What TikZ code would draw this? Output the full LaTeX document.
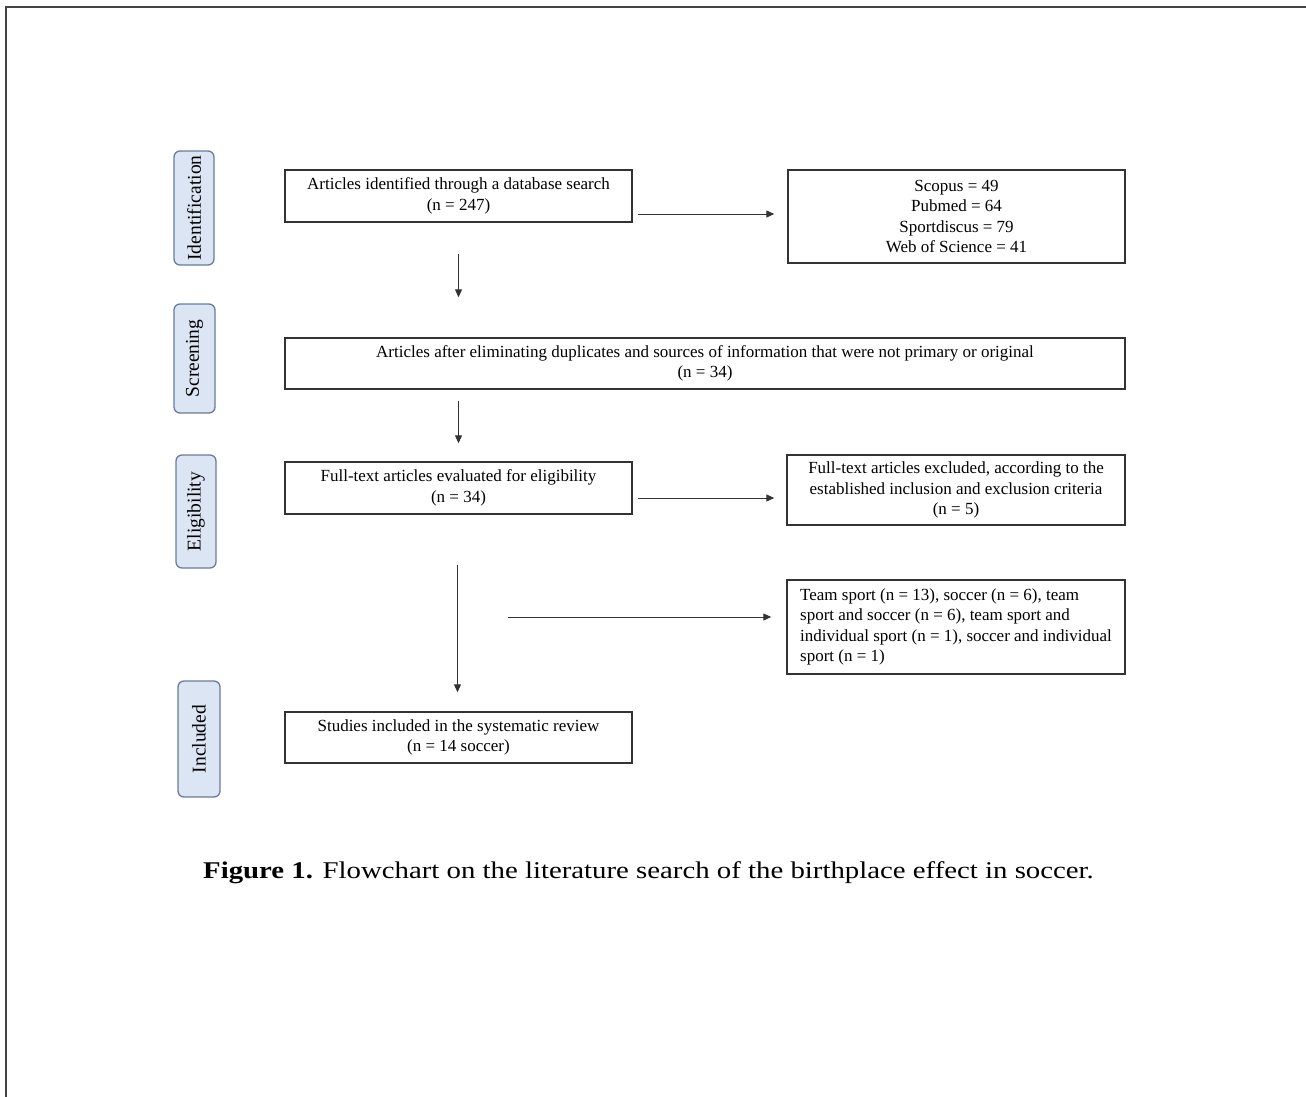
\documentclass[tikz,border=0pt]{standalone}
\usepackage{fontspec}
\setmainfont{Liberation Serif}
\newfontfamily\capfont[FakeStretch=1.2]{Liberation Serif}
\usetikzlibrary{arrows.meta,calc}
\definecolor{framecol}{HTML}{444444}
\definecolor{boxcol}{HTML}{333333}
\definecolor{lblfill}{HTML}{DCE5F4}
\definecolor{lbldraw}{HTML}{6A7C9C}
\tikzset{
  box/.style={draw=boxcol, line width=1.4pt, fill=white, align=center, inner sep=2pt,
    font=\fontsize{17}{20.5}\selectfont},
  lbl/.style={draw=lbldraw, fill=lblfill, line width=1.3pt, rounded corners=6pt, rotate=90,
    font=\fontsize{19.5}{22}\selectfont, inner sep=1pt},
  arr/.style={draw=boxcol, line width=1pt, -{Triangle[length=8pt,width=7pt]}},
}
\begin{document}
\begin{tikzpicture}[x=1pt,y=-1pt]
\useasboundingbox (0,0) rectangle (1306,1097);
\draw[framecol, line width=2pt] (1306,7) -- (6,7) -- (6,1097);

% stage labels
\node[lbl, minimum width=114pt, minimum height=40pt] (l1) at (194,208) {Identification};
\node[lbl, minimum width=109pt, minimum height=41pt] (l2) at (194.5,358.5) {Screening};
\node[lbl, minimum width=113pt, minimum height=40pt] (l3) at (196,511.5) {Eligibility};
\node[lbl, minimum width=116pt, minimum height=42pt] (l4) at (199,739) {Included};

% boxes
\node[box, minimum width=347pt, minimum height=52pt] (b1) at (458.5,196)
  {Articles identified through a database search\\(n = 247)};
\node[box, minimum width=337pt, minimum height=93pt] (b2) at (956.5,216.5)
  {Scopus = 49\\Pubmed = 64\\Sportdiscus = 79\\Web of Science = 41};
\node[box, minimum width=840pt, minimum height=51pt] (b3) at (705,363.5)
  {Articles after eliminating duplicates and sources of information that were not primary or original\\(n = 34)};
\node[box, minimum width=347pt, minimum height=52pt] (b4) at (458.5,488)
  {Full-text articles evaluated for eligibility\\(n = 34)};
\node[box, minimum width=338pt, minimum height=70pt] (b5) at (956,490)
  {Full-text articles excluded, according to the\\established inclusion and exclusion criteria\\(n = 5)};
\node[box, minimum width=338pt, minimum height=94pt, align=left] (b6) at (956,627)
  {Team sport (n = 13), soccer (n = 6), team\\sport and soccer (n = 6), team sport and\\individual sport (n = 1), soccer and individual\\sport (n = 1)};
\node[box, minimum width=347pt, minimum height=51pt] (b7) at (458.5,737.5)
  {Studies included in the systematic review\\(n = 14 soccer)};

% connectors
\coordinate (s1) at ($(b1.east)+(5,18)$);
\coordinate (e1) at ($(b2.west)+(-13,0)$);
\draw[arr] (s1) -- (s1 -| e1);
\draw[arr, shorten <=31pt, shorten >=40pt] (b1.south) -- (b1.south |- b3.north);
\draw[arr, shorten <=11pt, shorten >=18pt] (b4.north |- b3.south) -- (b4.north);
\coordinate (s2) at ($(b4.east)+(5,10)$);
\coordinate (e2) at ($(b5.west)+(-12,0)$);
\draw[arr] (s2) -- (s2 -| e2);
\draw[arr, shorten <=50pt, shorten >=19pt] ($(b4.south)+(-1,0)$) -- ($(b7.north)+(-1,0)$);
\coordinate (s3) at (508,617);
\coordinate (e3) at ($(b6.west)+(-15,0)$);
\draw[arr] (s3) -- (s3 -| e3);

% caption
\node[font=\capfont\fontsize{24}{28}\selectfont, anchor=west, inner sep=0pt] (cap) at (203,873)
  {\textbf{Figure 1.} Flowchart on the literature search of the birthplace effect in soccer.};
\end{tikzpicture}
\end{document}
